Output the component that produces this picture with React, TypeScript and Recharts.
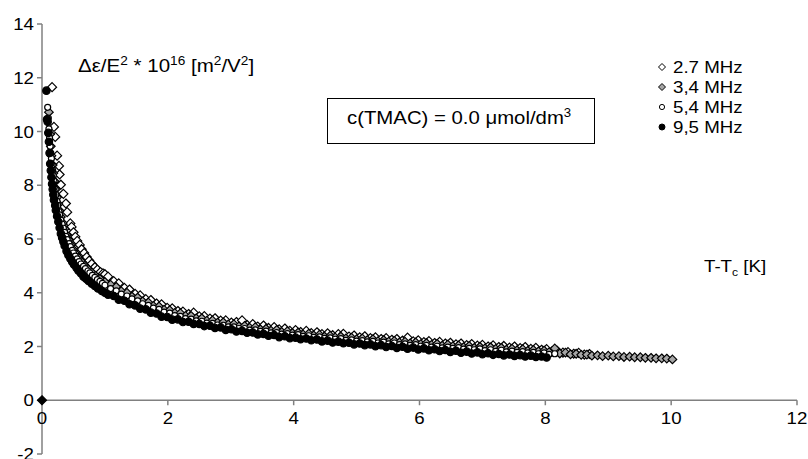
import React from 'react';
import {
  ScatterChart,
  Scatter,
  XAxis,
  YAxis,
  ReferenceLine,
  ReferenceDot,
  Legend,
} from 'recharts';

// T - Tc [K] below 1 K: [x, y] pairs per frequency
const head27: number[][] = [
  [0.16, 11.65], [0.19, 10.17], [0.21, 9.8], [0.24, 9.1], [0.27, 8.72], [0.28, 8.4], [0.3, 8.02], [0.34, 7.68],
  [0.38, 7.32], [0.4, 7.0], [0.45, 6.58], [0.47, 6.45], [0.5, 6.25], [0.53, 6.08], [0.56, 5.93], [0.6, 5.78],
  [0.63, 5.62], [0.67, 5.48], [0.71, 5.33], [0.75, 5.2], [0.79, 5.08], [0.84, 4.95], [0.88, 4.86], [0.93, 4.77],
  [0.97, 4.72], [1.0, 4.69],
];
const head34: number[][] = [
  [0.11, 10.72], [0.13, 9.9], [0.14, 9.45], [0.15, 9.1], [0.17, 8.75], [0.18, 8.45], [0.2, 8.15], [0.22, 7.85],
  [0.24, 7.55], [0.26, 7.3], [0.28, 7.05], [0.3, 6.82], [0.33, 6.6], [0.36, 6.38], [0.39, 6.15], [0.42, 5.97],
  [0.46, 5.78], [0.5, 5.6], [0.54, 5.44], [0.58, 5.3], [0.63, 5.15], [0.68, 5.01], [0.73, 4.89], [0.79, 4.76],
  [0.85, 4.63], [0.92, 4.52], [1.0, 4.4],
];
const head54: number[][] = [
  [0.09, 10.9], [0.1, 10.5], [0.11, 10.1], [0.12, 9.75], [0.13, 9.45], [0.14, 9.2], [0.15, 9.0], [0.16, 8.75],
  [0.17, 8.55], [0.18, 8.35], [0.19, 8.15], [0.21, 7.85], [0.22, 7.65], [0.24, 7.4], [0.25, 7.25], [0.27, 7.02],
  [0.28, 6.9], [0.3, 6.7], [0.32, 6.55], [0.34, 6.4], [0.36, 6.25], [0.38, 6.1], [0.4, 5.98], [0.43, 5.83],
  [0.45, 5.72], [0.48, 5.58], [0.5, 5.48], [0.53, 5.36], [0.56, 5.26], [0.59, 5.16], [0.62, 5.07], [0.66, 4.98],
  [0.69, 4.9], [0.73, 4.81], [0.76, 4.74], [0.8, 4.65], [0.84, 4.57], [0.88, 4.49], [0.92, 4.42], [0.96, 4.35],
  [1.0, 4.28],
];
const head95: number[][] = [
  [0.07, 11.52], [0.08, 10.45], [0.09, 10.36], [0.1, 9.95], [0.11, 9.62], [0.12, 9.2], [0.13, 8.8], [0.14, 8.55],
  [0.15, 8.3], [0.16, 8.05], [0.17, 7.85], [0.18, 7.65], [0.19, 7.45], [0.21, 7.25], [0.22, 7.07], [0.24, 6.85],
  [0.26, 6.64], [0.28, 6.42], [0.3, 6.2], [0.32, 6.05], [0.34, 5.9], [0.36, 5.75], [0.39, 5.55], [0.42, 5.4],
  [0.45, 5.27], [0.48, 5.15], [0.51, 5.04], [0.55, 4.92], [0.58, 4.82], [0.62, 4.72], [0.66, 4.6], [0.7, 4.52],
  [0.74, 4.44], [0.79, 4.34], [0.84, 4.25], [0.89, 4.16], [0.95, 4.07], [1.0, 4.0],
];

// temperature steps above 1 K (two interleaved measurement grids)
const gridA = [
  1.05, 1.14, 1.22, 1.31, 1.39, 1.48, 1.56, 1.65, 1.73, 1.82,
  1.9, 1.99, 2.07, 2.16, 2.24, 2.33, 2.41, 2.5, 2.58, 2.67,
  2.75, 2.84, 2.92, 3.01, 3.09, 3.18, 3.26, 3.35, 3.43, 3.52,
  3.6, 3.69, 3.77, 3.86, 3.94, 4.03, 4.11, 4.2, 4.28, 4.37,
  4.45, 4.54, 4.62, 4.71, 4.79, 4.88, 4.96, 5.05, 5.13, 5.22,
  5.3, 5.39, 5.47, 5.56, 5.64, 5.73, 5.81, 5.9, 5.98, 6.07,
  6.15, 6.24, 6.32, 6.41, 6.49, 6.58, 6.66, 6.75, 6.83, 6.92,
  7.0, 7.09, 7.17, 7.26, 7.34, 7.43, 7.51, 7.6, 7.68, 7.77,
  7.85, 7.94, 8.02, 8.11, 8.19, 8.28, 8.36, 8.45, 8.53, 8.62,
  8.7,
];
const gridB = [
  1.09, 1.18, 1.26, 1.35, 1.43, 1.52, 1.6, 1.69, 1.77, 1.86,
  1.94, 2.03, 2.11, 2.2, 2.28, 2.37, 2.45, 2.54, 2.62, 2.71,
  2.79, 2.88, 2.96, 3.05, 3.13, 3.22, 3.3, 3.39, 3.47, 3.56,
  3.64, 3.73, 3.81, 3.9, 3.98, 4.07, 4.15, 4.24, 4.32, 4.41,
  4.49, 4.58, 4.66, 4.75, 4.83, 4.92, 5.0, 5.09, 5.17, 5.26,
  5.34, 5.43, 5.51, 5.6, 5.68, 5.77, 5.85, 5.94, 6.02, 6.11,
  6.19, 6.28, 6.36, 6.45, 6.53, 6.62, 6.7, 6.79, 6.87, 6.96,
  7.04, 7.13, 7.21, 7.3, 7.38, 7.47, 7.55, 7.64, 7.72, 7.81,
  7.89, 7.98, 8.06, 8.15, 8.23, 8.32, 8.4, 8.49, 8.57, 8.66,
  8.74, 8.83, 8.91, 9.0, 9.08, 9.17, 9.25, 9.34, 9.42, 9.51,
  9.59, 9.68, 9.76, 9.85, 9.93, 10.02,
];

const tail27 = [
  4.6, 4.43, 4.35, 4.18, 4.12, 3.96, 3.9, 3.76, 3.73, 3.6,
  3.57, 3.44, 3.42, 3.32, 3.3, 3.21, 3.26, 3.12, 3.13, 3.04,
  3.05, 2.96, 2.97, 2.89, 2.91, 2.97, 2.8, 2.83, 2.74, 2.78,
  2.69, 2.72, 2.64, 2.67, 2.58, 2.61, 2.54, 2.58, 2.5, 2.53,
  2.46, 2.49, 2.42, 2.46, 2.47, 2.37, 2.41, 2.34, 2.38, 2.31,
  2.34, 2.28, 2.31, 2.25, 2.28, 2.22, 2.33, 2.19, 2.23, 2.16,
  2.2, 2.13, 2.17, 2.11, 2.14, 2.08, 2.11, 2.05, 2.09, 2.03,
  2.06, 2.0, 2.04, 1.98, 2.02, 1.96, 2.0, 1.94, 1.98, 1.91,
  1.95, 1.88, 1.9, 1.83, 1.84, 1.77, 1.79, 1.73, 1.76, 1.7,
  1.72,
];
const tail34 = [
  4.3, 4.22, 4.06, 4.0, 3.86, 3.82, 3.68, 3.64, 3.51, 3.49,
  3.37, 3.35, 3.25, 3.24, 3.14, 3.14, 3.05, 3.05, 2.96, 2.97,
  2.89, 2.9, 2.82, 2.83, 2.75, 2.77, 2.7, 2.72, 2.64, 2.66,
  2.59, 2.62, 2.54, 2.57, 2.5, 2.52, 2.45, 2.48, 2.41, 2.44,
  2.37, 2.4, 2.34, 2.37, 2.3, 2.33, 2.27, 2.3, 2.24, 2.27,
  2.2, 2.24, 2.18, 2.21, 2.15, 2.18, 2.12, 2.15, 2.09, 2.13,
  2.06, 2.1, 2.03, 2.07, 2.01, 2.04, 1.98, 2.02, 1.95, 1.99,
  1.93, 1.97, 1.91, 1.95, 1.88, 1.92, 1.86, 1.9, 1.84, 1.87,
  1.82, 1.85, 1.79, 1.93, 1.74, 1.77, 1.71, 1.73, 1.69, 1.7,
  1.66, 1.67, 1.64, 1.66, 1.63, 1.64, 1.61, 1.62, 1.6, 1.6,
  1.58, 1.58, 1.56, 1.56, 1.55, 1.52,
];
const tail54 = [
  4.15, 4.07, 3.95, 3.88, 3.77, 3.7, 3.59, 3.53, 3.43, 3.38,
  3.28, 3.24, 3.15, 3.12, 3.04, 3.02, 2.95, 2.94, 2.87, 2.86,
  2.8, 2.79, 2.73, 2.73, 2.67, 2.67, 2.61, 2.62, 2.56, 2.57,
  2.51, 2.52, 2.46, 2.48, 2.42, 2.44, 2.38, 2.4, 2.34, 2.36,
  2.3, 2.32, 2.27, 2.29, 2.23, 2.25, 2.2, 2.22, 2.17, 2.19,
  2.13, 2.16, 2.1, 2.13, 2.07, 2.1, 2.04, 2.07, 2.01, 2.04,
  1.98, 2.01, 1.95, 1.98, 1.93, 1.96, 1.9, 1.93, 1.88, 1.91,
  1.85, 1.88, 1.82, 1.86, 1.8, 1.83, 1.78, 1.81, 1.76, 1.78,
  1.73, 1.76, 1.71, 1.73,
];
const tail95 = [
  3.93, 3.88, 3.74, 3.7, 3.57, 3.53, 3.41, 3.38, 3.26, 3.23,
  3.11, 3.1, 3.0, 3.01, 2.91, 2.92, 2.84, 2.84, 2.76, 2.77,
  2.69, 2.71, 2.62, 2.64, 2.56, 2.58, 2.51, 2.52, 2.45, 2.47,
  2.4, 2.43, 2.35, 2.38, 2.31, 2.33, 2.27, 2.3, 2.23, 2.26,
  2.19, 2.22, 2.15, 2.18, 2.12, 2.14, 2.08, 2.11, 2.05, 2.08,
  2.01, 2.05, 1.98, 2.02, 1.95, 1.99, 1.92, 1.96, 1.89, 1.93,
  1.86, 1.9, 1.83, 1.87, 1.8, 1.84, 1.77, 1.81, 1.74, 1.78,
  1.71, 1.75, 1.69, 1.72, 1.67, 1.7, 1.65, 1.68, 1.63, 1.66,
  1.61, 1.63, 1.59,
];

const origin: number[][] = [[0, 0]];

const xTicks = [0, 2, 4, 6, 8, 10, 12];
const yTicks = [-2, 0, 2, 4, 6, 8, 10, 12, 14];
const legendLabels = ['2.7 MHz', '3,4 MHz', '5,4 MHz', '9,5 MHz'];

const toPts = (head: number[][], grid: number[], tail: number[]) => [
  ...head.map(([x, y]) => ({ x, y })),
  ...tail.map((y, i) => ({ x: grid[i], y })),
];

const FONT = '"Liberation Sans", Arial, Helvetica, sans-serif';
const AXIS = '#808080';
const SX = 1.1; // reference type is a bit wider than Arial

const diamond = (fill: string, h: number) => (p: any) => (
  <polygon
    points={`${p.cx},${p.cy - h} ${p.cx + h},${p.cy} ${p.cx},${p.cy + h} ${p.cx - h},${p.cy}`}
    fill={fill}
    stroke="#000"
    strokeWidth={1.2}
  />
);

const circle = (fill: string, r: number) => (p: any) => (
  <circle cx={p.cx} cy={p.cy} r={r} fill={fill} stroke="#000" strokeWidth={1.2} />
);

const xTickShape = (label: number) => (p: any) => (
  <g>
    <line x1={p.cx} y1={p.cy} x2={p.cx} y2={p.cy + 5} stroke={AXIS} strokeWidth={1.5} />
    <text
      transform={`translate(${p.cx},${p.cy + 24}) scale(${SX},1)`}
      textAnchor="middle"
      fontSize={17}
      fontFamily={FONT}
      fill="#000"
    >
      {label}
    </text>
  </g>
);

const YTick = (p: any) => (
  <text
    transform={`translate(${p.x},${p.y}) scale(${SX},1)`}
    textAnchor="end"
    dy="0.355em"
    fontSize={17}
    fontFamily={FONT}
    fill="#000"
  >
    {p.payload.value}
  </text>
);

const LegendBox = () => {
  const icons = [
    <polygon points="0,-3.5 3.5,0 0,3.5 -3.5,0" fill="#fff" stroke="#000" />,
    <polygon points="0,-3.5 3.5,0 0,3.5 -3.5,0" fill="#a6a6a6" stroke="#000" />,
    <circle r={2.6} fill="#fff" stroke="#000" />,
    <circle r={3} fill="#000" stroke="#000" />,
  ];
  return (
    <svg width={120} height={90} style={{ display: 'block' }}>
      {legendLabels.map((l, i) => (
        <g key={l} transform={`translate(0, ${10 + i * 20})`}>
          <g transform="translate(7, 0)">{icons[i]}</g>
          <text transform={`translate(18,6) scale(${SX},1)`} fontSize={17} fontFamily={FONT} fill="#000">
            {l}
          </text>
        </g>
      ))}
    </svg>
  );
};

export default function App() {
  return (
    <div style={{ position: 'absolute', left: 0, top: 0, width: 808, height: 459, background: '#fff', fontFamily: FONT }}>
      <ScatterChart width={808} height={459} margin={{ top: 24, right: 11, bottom: 5, left: 0 }}>
        <XAxis type="number" dataKey="x" domain={[0, 12]} ticks={xTicks} hide />
        <YAxis
          type="number"
          dataKey="y"
          domain={[-2, 14]}
          ticks={yTicks}
          width={42}
          interval={0}
          tickSize={5}
          tickMargin={3}
          axisLine={{ stroke: AXIS, strokeWidth: 1.5 }}
          tickLine={{ stroke: AXIS, strokeWidth: 1.5 }}
          tick={<YTick />}
        />
        <ReferenceLine y={0} stroke={AXIS} strokeWidth={1.5} />
        {xTicks.map((t) => (
          <ReferenceDot key={t} x={t} y={0} r={1} shape={xTickShape(t)} />
        ))}
        <Legend
          layout="vertical"
          align="center"
          verticalAlign="middle"
          wrapperStyle={{ position: 'absolute', left: 655, top: 57, width: 120 }}
          content={() => <LegendBox />}
        />
        <Scatter name="2.7 MHz" data={toPts(head27, gridA, tail27)} shape={diamond('#fff', 4.5)} isAnimationActive={false} />
        <Scatter name="3,4 MHz" data={toPts(head34, gridB, tail34)} shape={diamond('#a6a6a6', 4.3)} isAnimationActive={false} />
        <Scatter name="5,4 MHz" data={toPts(head54, gridB, tail54)} shape={circle('#fff', 3)} isAnimationActive={false} />
        <Scatter name="9,5 MHz" data={toPts(head95, gridA, tail95)} shape={circle('#000', 3.7)} isAnimationActive={false} />
        <Scatter
          name="origin"
          data={origin.map(([x, y]) => ({ x, y }))}
          shape={diamond('#000', 4.5)}
          isAnimationActive={false}
          legendType="none"
        />
      </ScatterChart>
      <svg
        width={808}
        height={459}
        style={{ position: 'absolute', left: 0, top: 0, pointerEvents: 'none' }}
        fontFamily={FONT}
      >
        <text transform="translate(78,72) scale(1.14,1)" fontSize={18} fill="#000">
          Δε/E
          <tspan dy={-7} fontSize={12}>2</tspan>
          <tspan dy={7}> * 10</tspan>
          <tspan dy={-7} fontSize={12}>16</tspan>
          <tspan dy={7}> [m</tspan>
          <tspan dy={-7} fontSize={12}>2</tspan>
          <tspan dy={7}>/V</tspan>
          <tspan dy={-7} fontSize={12}>2</tspan>
          <tspan dy={7}>]</tspan>
        </text>
        <rect x={327.5} y={98.5} width={267} height={45} fill="#fff" stroke="#000" strokeWidth={1} />
        <text transform={`translate(347,124) scale(${SX},1)`} fontSize={18.5} fill="#000">
          c(TMAC) = 0.0 μmol/dm
          <tspan dy={-7} fontSize={12}>3</tspan>
        </text>
        <text transform={`translate(704,272) scale(${SX},1)`} fontSize={17} fill="#000">
          T-T
          <tspan dy={4} fontSize={11}>c</tspan>
          <tspan dy={-4}> [K]</tspan>
        </text>
      </svg>
    </div>
  );
}
